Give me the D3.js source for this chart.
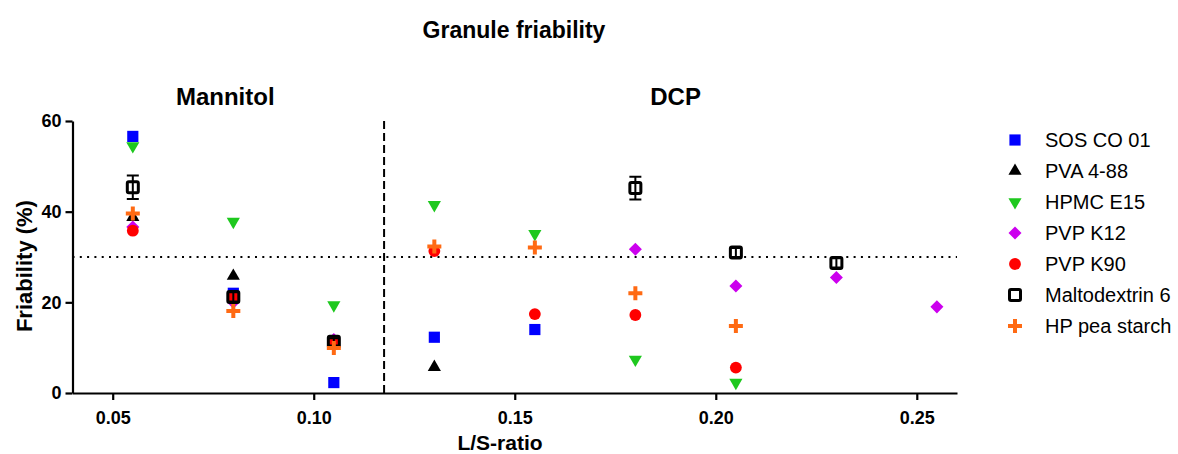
<!DOCTYPE html>
<html><head><meta charset="utf-8">
<script src="https://cdn.jsdelivr.net/npm/d3@7"></script>
<style>
body{margin:0;background:#fff;}
text{font-family:"Liberation Sans",Arial,sans-serif;}
</style></head>
<body><svg id="c" width="1178" height="454"></svg>
<script>
// ---- data ----
const lsRatio = [0.055, 0.08, 0.105, 0.13, 0.155, 0.18, 0.205, 0.23, 0.255];
const sosCO01     = [56.6, 22.0, 2.3, 12.3, 14.0, null, null, null, null];
const pva488      = [38.8, 25.8, 11.0, 5.7, null, null, null, null, null];
const hpmcE15     = [54.5, 37.8, 19.4, 41.5, 35.1, 7.4, 2.3, null, null];
const pvpK12      = [36.6, 20.0, 11.8, null, null, 31.7, 23.6, 25.5, 19.0];
const pvpK90      = [35.8, 21.2, 11.2, 31.3, 17.4, 17.2, 5.6, null, null];
const malto6      = [45.4, 21.2, 11.3, null, null, 45.2, 31.0, 28.7, null];
const malto6Err   = [2.6, 1.0, 0.8, null, null, 2.5, 1.0, 1.0, null];
const hpPeaStarch = [39.6, 18.1, 9.9, 32.3, 32.1, 22.0, 14.8, null, null];
const seriesNames = ["SOS CO 01","PVA 4-88","HPMC E15","PVP K12","PVP K90","Maltodextrin 6","HP pea starch"];
const xTicks = [0.05, 0.10, 0.15, 0.20, 0.25];
const yTicks = [0, 20, 40, 60];
const thresholdY = 30;
const dividerX = 0.1175;
const groupLabels = ["Mannitol", "DCP"];
const groupLabelX = [0.078, 0.19];

const series = [
  {name: seriesNames[0], vals: sosCO01, color: "#0000ff", shape: "square"},
  {name: seriesNames[1], vals: pva488, color: "#000000", shape: "tri"},
  {name: seriesNames[2], vals: hpmcE15, color: "#1ec81e", shape: "tridown"},
  {name: seriesNames[3], vals: pvpK12, color: "#cc00ee", shape: "diamond"},
  {name: seriesNames[4], vals: pvpK90, color: "#ff0000", shape: "circle"},
  {name: seriesNames[5], vals: malto6, err: malto6Err, color: "#000000", shape: "open"},
  {name: seriesNames[6], vals: hpPeaStarch, color: "#ff6a13", shape: "plus"}
];

const svg = d3.select("#c");
const x = d3.scaleLinear().domain([0.04, 0.26]).range([72.5, 957]);
const y = d3.scaleLinear().domain([0, 60]).range([393, 121]);

function drawMarker(g, shape, color) {
  if (shape === "square") {
    g.append("path").attr("d", d3.symbol(d3.symbolSquare, 125)()).attr("fill", color);
  } else if (shape === "tri") {
    g.append("path").attr("d", d3.symbol(d3.symbolTriangle, 75)()).attr("fill", color);
  } else if (shape === "tridown") {
    g.append("path").attr("d", d3.symbol(d3.symbolTriangle, 75)()).attr("fill", color).attr("transform", "rotate(180)");
  } else if (shape === "diamond") {
    g.append("path").attr("d", d3.symbol(d3.symbolSquare, 85)()).attr("fill", color).attr("transform", "rotate(45)");
  } else if (shape === "circle") {
    g.append("path").attr("d", d3.symbol(d3.symbolCircle, 110)()).attr("fill", color);
  } else if (shape === "open") {
    g.append("rect").attr("x", -5.5).attr("y", -5.5).attr("width", 11).attr("height", 11)
      .attr("rx", 1.5).attr("fill", "none").attr("stroke", color).attr("stroke-width", 3);
  } else if (shape === "plus") {
    g.append("path").attr("d", "M-7,0H7M0,-7V7").attr("stroke", color).attr("stroke-width", 4).attr("fill", "none");
  }
}

// title
svg.append("text").attr("x", 514).attr("y", 38).attr("text-anchor", "middle")
  .attr("font-size", 23).attr("font-weight", "bold").text("Granule friability");

// group labels
groupLabels.forEach((t, i) => {
  svg.append("text").attr("x", x(groupLabelX[i])).attr("y", 105).attr("text-anchor", "middle")
    .attr("font-size", 24).attr("font-weight", "bold").text(t);
});

// reference lines
svg.append("line").attr("x1", x(0.04)).attr("x2", x(0.26)).attr("y1", y(thresholdY)).attr("y2", y(thresholdY))
  .attr("stroke", "#000").attr("stroke-width", 2).attr("stroke-dasharray", "2,5.3");
svg.append("line").attr("x1", x(dividerX)).attr("x2", x(dividerX)).attr("y1", y(60)).attr("y2", y(0))
  .attr("stroke", "#000").attr("stroke-width", 2).attr("stroke-dasharray", "8,4");

// axes
const xAxis = svg.append("g").attr("transform", `translate(0,${y(0)})`)
  .call(d3.axisBottom(x).tickValues(xTicks).tickFormat(d3.format(".2f")).tickSize(7).tickSizeOuter(0));
const yAxis = svg.append("g").attr("transform", `translate(${x(0.04)},0)`)
  .call(d3.axisLeft(y).tickValues(yTicks).tickSize(7).tickSizeOuter(0));
[xAxis, yAxis].forEach(a => {
  a.select(".domain").attr("stroke-width", 2.2);
  a.selectAll(".tick line").attr("stroke-width", 2.2);
  a.selectAll(".tick text").attr("font-family", "'Liberation Sans',Arial,sans-serif")
    .attr("font-size", 18).attr("font-weight", "bold").attr("fill", "#000");
});
xAxis.selectAll(".tick text").attr("dy", "1.15em");
yAxis.selectAll(".tick text").attr("dx", "-0.05em");

svg.append("text").attr("x", 500).attr("y", 450).attr("text-anchor", "middle")
  .attr("font-size", 21).attr("font-weight", "bold").text("L/S-ratio");
svg.append("text").attr("transform", `translate(32,${y(28)}) rotate(-90)`).attr("text-anchor", "middle")
  .attr("font-size", 22).attr("font-weight", "bold").text("Friability (%)");

// points
series.forEach(s => {
  const g = svg.append("g");
  s.vals.forEach((v, i) => {
    if (v == null) return;
    const cx = x(lsRatio[i]), cy = y(v);
    if (s.err && s.err[i] != null) {
      const e = s.err[i];
      g.append("path").attr("d", `M${cx},${y(v - e)}V${y(v + e)}M${cx - 6},${y(v - e)}H${cx + 6}M${cx - 6},${y(v + e)}H${cx + 6}`)
        .attr("stroke", s.color).attr("stroke-width", 2).attr("fill", "none");
    }
    const m = g.append("g").attr("transform", `translate(${cx},${cy})`);
    drawMarker(m, s.shape, s.color);
  });
});

// legend
series.forEach((s, i) => {
  const ly = 140 + i * 31;
  const m = svg.append("g").attr("transform", `translate(1015,${ly})`);
  drawMarker(m, s.shape, s.color);
  svg.append("text").attr("x", 1045).attr("y", ly + 7).attr("font-size", 20).text(s.name);
});
</script></body></html>
